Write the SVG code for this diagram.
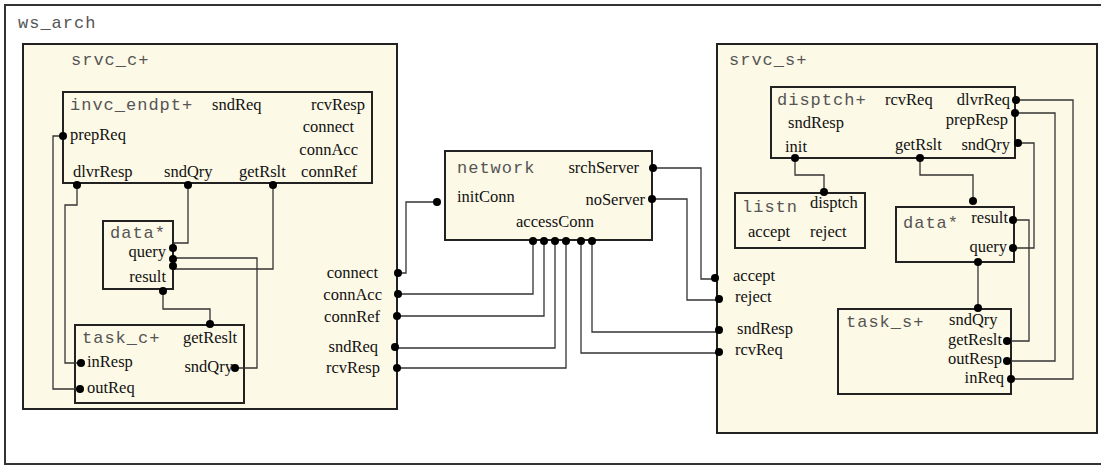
<svg xmlns="http://www.w3.org/2000/svg" width="1101" height="466" viewBox="0 0 1101 466">
<style>
.frame{fill:#fff;stroke:#333;stroke-width:2}
.box{fill:#fdf9e7;stroke:#222;stroke-width:2}
.t{font-family:"Liberation Mono",monospace;font-size:17px;letter-spacing:1px;fill:#555}
.p{font-family:"Liberation Serif",serif;font-size:16.5px;fill:#111}
.e{text-anchor:end}
.c{fill:none;stroke:#333;stroke-width:1.3}
.d{fill:#000}
</style>
<rect class="frame" x="5" y="5" width="1110" height="459"/>
<text class="t" x="18" y="28">ws_arch</text>

<g id="srvc_c">
<rect class="box" x="23" y="44" width="374" height="365"/>
<text class="t" x="71" y="65">srvc_c+</text>
<text class="p e" x="378" y="278">connect</text>
<text class="p e" x="382" y="300">connAcc</text>
<text class="p e" x="380" y="322">connRef</text>
<text class="p e" x="378" y="352">sndReq</text>
<text class="p e" x="380" y="373">rcvResp</text>
</g>

<g id="invc_endpt">
<rect class="box" x="63" y="92" width="309" height="91"/>
<text class="t" x="70" y="110">invc_endpt+</text>
<text class="p" x="212" y="110">sndReq</text>
<text class="p e" x="365" y="110">rcvResp</text>
<text class="p e" x="354" y="132">connect</text>
<text class="p e" x="358" y="155">connAcc</text>
<text class="p e" x="357" y="177">connRef</text>
<text class="p" x="70" y="140">prepReq</text>
<text class="p" x="73" y="177">dlvrResp</text>
<text class="p" x="164" y="177">sndQry</text>
<text class="p" x="239" y="177">getRslt</text>
</g>

<g id="data_c">
<rect class="box" x="103" y="221" width="70" height="68"/>
<text class="t" x="110" y="238">data*</text>
<text class="p e" x="166" y="257">query</text>
<text class="p e" x="166" y="282">result</text>
</g>

<g id="task_c">
<rect class="box" x="75" y="325" width="169" height="78"/>
<text class="t" x="82" y="343">task_c+</text>
<text class="p" x="183" y="343">getReslt</text>
<text class="p" x="87" y="367">inResp</text>
<text class="p e" x="233" y="372">sndQry</text>
<text class="p" x="87" y="393">outReq</text>
</g>

<g id="network">
<rect class="box" x="445" y="151" width="207" height="89"/>
<text class="t" x="457" y="173">network</text>
<text class="p e" x="639" y="173">srchServer</text>
<text class="p" x="457" y="202">initConn</text>
<text class="p e" x="645" y="205">noServer</text>
<text class="p" x="516" y="227">accessConn</text>
</g>

<g id="srvc_s">
<rect class="box" x="717" y="44" width="380" height="389"/>
<text class="t" x="729" y="65">srvc_s+</text>
<text class="p" x="733" y="281">accept</text>
<text class="p" x="735" y="302">reject</text>
<text class="p" x="737" y="334">sndResp</text>
<text class="p" x="735" y="355">rcvReq</text>
</g>

<g id="disptch">
<rect class="box" x="771" y="87" width="244" height="71"/>
<text class="t" x="777" y="105">disptch+</text>
<text class="p" x="885" y="105">rcvReq</text>
<text class="p e" x="1010" y="105">dlvrReq</text>
<text class="p" x="788" y="128">sndResp</text>
<text class="p e" x="1008" y="125">prepResp</text>
<text class="p" x="785" y="152">init</text>
<text class="p" x="895" y="150">getRslt</text>
<text class="p e" x="1010" y="150">sndQry</text>
</g>

<g id="listn">
<rect class="box" x="735" y="193" width="130" height="55"/>
<text class="t" x="742" y="212">listn</text>
<text class="p" x="810" y="208">disptch</text>
<text class="p" x="748" y="237">accept</text>
<text class="p" x="810" y="237">reject</text>
</g>

<g id="data_s">
<rect class="box" x="896" y="207" width="118" height="55"/>
<text class="t" x="903" y="228">data*</text>
<text class="p e" x="1008" y="223">result</text>
<text class="p e" x="1007" y="252">query</text>
</g>

<g id="task_s">
<rect class="box" x="838" y="309" width="173" height="85"/>
<text class="t" x="846" y="327">task_s+</text>
<text class="p" x="949" y="325">sndQry</text>
<text class="p e" x="1002" y="345">getReslt</text>
<text class="p e" x="1002" y="364">outResp</text>
<text class="p e" x="1004" y="383">inReq</text>
</g>

<g id="connectors">
<path class="c" d="M77,185 V205 H65 V363 H81"/>
<path class="c" d="M63,136 H53 V389 H80"/>
<path class="c" d="M188,185 V243 H174 V248"/>
<path class="c" d="M273,185 V269 H173"/>
<path class="c" d="M235,368 H257 V258 H173"/>
<path class="c" d="M163,291 V309 H210 V324"/>
<path class="c" d="M437,202 H406 V273 H398"/>
<path class="c" d="M653,168 H701 V279 H716"/>
<path class="c" d="M652,199 H687 V300 H718"/>
<path class="c" d="M533,241 V294 H398"/>
<path class="c" d="M544,241 V316 H397"/>
<path class="c" d="M555,241 V348 H395"/>
<path class="c" d="M566,241 V368 H397"/>
<path class="c" d="M592,241 V332 H719"/>
<path class="c" d="M581,241 V353 H719"/>
<path class="c" d="M795,158 V175 H824 V192"/>
<path class="c" d="M920,158 V175 H973 V201"/>
<path class="c" d="M1016,100 H1073 V379 H1011"/>
<path class="c" d="M1015,113 H1055 V361 H1007"/>
<path class="c" d="M1018,143 H1034 V248 H1013"/>
<path class="c" d="M1013,220 H1029 V341 H1007"/>
<path class="c" d="M978,262 V308"/>
<g class="d">
<circle cx="63" cy="136" r="4"/>
<circle cx="77" cy="185" r="4"/>
<circle cx="188" cy="185" r="4"/>
<circle cx="273" cy="185" r="4"/>
<circle cx="173" cy="248" r="4"/>
<circle cx="173" cy="259" r="4"/>
<circle cx="173" cy="266" r="4"/>
<circle cx="163" cy="291" r="4"/>
<circle cx="210" cy="324" r="4"/>
<circle cx="81" cy="363" r="4"/>
<circle cx="235" cy="368" r="4"/>
<circle cx="80" cy="389" r="4"/>
<circle cx="398" cy="273" r="4"/>
<circle cx="398" cy="294" r="4"/>
<circle cx="397" cy="316" r="4"/>
<circle cx="395" cy="347" r="4"/>
<circle cx="397" cy="368" r="4"/>
<circle cx="437" cy="202" r="4"/>
<circle cx="653" cy="168" r="4"/>
<circle cx="652" cy="199" r="4"/>
<circle cx="533" cy="241" r="4"/>
<circle cx="544" cy="241" r="4"/>
<circle cx="555" cy="241" r="4"/>
<circle cx="566" cy="241" r="4"/>
<circle cx="581" cy="241" r="4"/>
<circle cx="592" cy="241" r="4"/>
<circle cx="715" cy="278" r="4"/>
<circle cx="719" cy="299" r="4"/>
<circle cx="719" cy="330" r="4"/>
<circle cx="719" cy="352" r="4"/>
<circle cx="1016" cy="100" r="4"/>
<circle cx="1015" cy="113" r="4"/>
<circle cx="1018" cy="143" r="4"/>
<circle cx="795" cy="158" r="4"/>
<circle cx="920" cy="158" r="4"/>
<circle cx="824" cy="192" r="4"/>
<circle cx="973" cy="201" r="4"/>
<circle cx="1013" cy="220" r="4"/>
<circle cx="1013" cy="248" r="4"/>
<circle cx="978" cy="262" r="4"/>
<circle cx="978" cy="308" r="4"/>
<circle cx="1007" cy="341" r="4"/>
<circle cx="1007" cy="361" r="4"/>
<circle cx="1011" cy="379" r="4"/>
</g>
</g>
</svg>
